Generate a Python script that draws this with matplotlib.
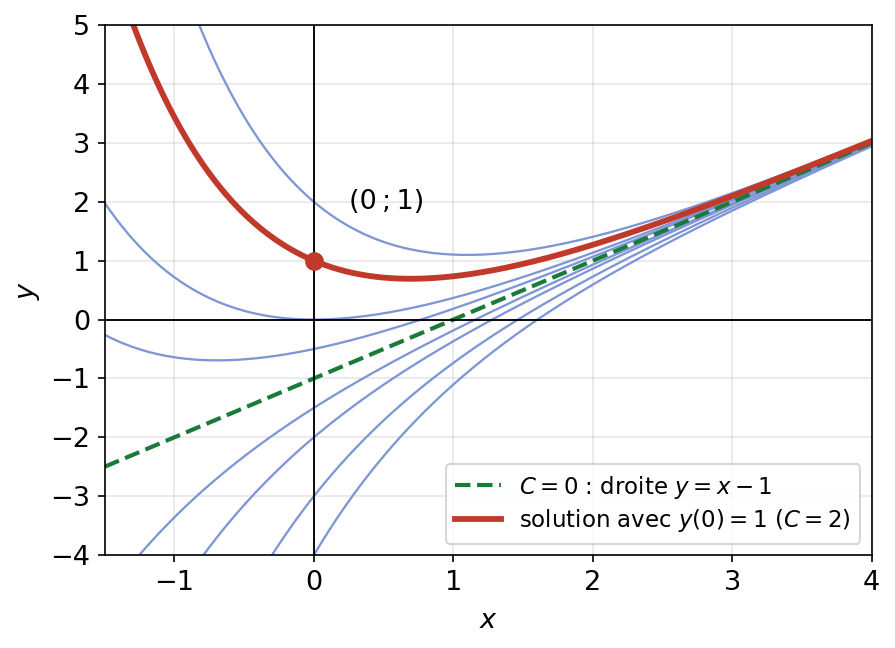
import numpy as np
import matplotlib
matplotlib.use("Agg")
import matplotlib.pyplot as plt

# family y = x - 1 + C e^{-x}
c_family = [3, 1, 0.5, -0.5, -1, -2, -3]
c_line = 0
c_solution = 2
point_x, point_y = 0, 1

x_min, x_max = -1.5, 4
y_min, y_max = -4, 5


def solution(x, c):
    return x - 1 + c * np.exp(-x)


fig = plt.figure(figsize=(895 / 150, 648 / 150), dpi=150)
ax = fig.add_axes([0.117, 0.1435, 0.857, 0.8175])

x = np.linspace(x_min, x_max, 600)

for c in c_family:
    ax.plot(x, solution(x, c), color="#7f96d6", linewidth=1.1)

ax.plot(x, solution(x, c_line), color="#1a7a3a", linestyle="--", linewidth=2,
        label=r"$C=0$ : droite $y=x-1$")
ax.plot(x, solution(x, c_solution), color="#c0392b", linewidth=2.8,
        label=r"solution avec $y(0)=1$ ($C=2$)")
ax.plot(point_x, point_y, "o", color="#c0392b", markersize=8, zorder=5)
ax.text(0.25, 2.0, "(0\u2009;\u20091)", fontsize=13, va="center")

ax.axhline(0, color="black", linewidth=0.9)
ax.axvline(0, color="black", linewidth=0.9)

ax.set_xlim(x_min, x_max)
ax.set_ylim(y_min, y_max)
ax.set_xticks([-1, 0, 1, 2, 3, 4])
ax.set_yticks(range(-4, 6))
ax.tick_params(labelsize=13)
ax.set_xlabel("$x$", fontsize=13, labelpad=6)
ax.set_ylabel("$y$", fontsize=13)
ax.grid(True, alpha=0.3)
ax.legend(loc="lower right", fontsize=11, labelspacing=0.3)

fig.savefig("out.png", dpi=150)
